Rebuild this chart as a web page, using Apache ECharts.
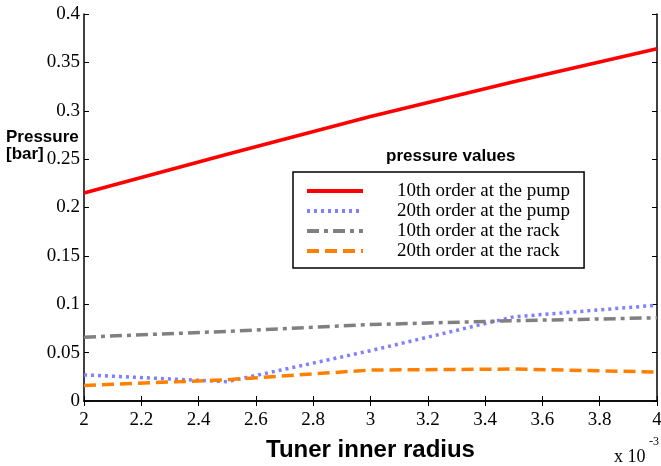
<!DOCTYPE html>
<html><head><meta charset="utf-8">
<script src="https://cdn.jsdelivr.net/npm/echarts@6/dist/echarts.min.js"></script>
<style>html,body{margin:0;padding:0;background:#fff}#c{width:661px;height:466px}</style>
</head><body><div id="c"></div>
<script>
const radius = [2, 2.5, 3, 3.5, 4];
const pump10 = [0.215, 0.255, 0.294, 0.330, 0.364];
const pump20 = [0.027, 0.020, 0.052, 0.087, 0.099];
const rack10 = [0.066, 0.072, 0.079, 0.083, 0.086];
const rack20 = [0.016, 0.022, 0.032, 0.033, 0.030];
const names = ['10th order at the pump', '20th order at the pump', '10th order at the rack', '20th order at the rack'];

const pair = (ys) => radius.map((x, i) => [x, ys[i]]);
const serif = 'Liberation Serif';
const sans = 'Liberation Sans';

const chart = echarts.init(document.getElementById('c'), null, {renderer: 'canvas'});
const axisCommon = {
  axisLine: {show: true, lineStyle: {color: '#000', width: 1.5}},
  axisTick: {show: true, inside: true, length: 5, lineStyle: {color: '#000', width: 1}},
  splitLine: {show: false}
};
chart.setOption({
  animation: false,
  backgroundColor: '#fff',
  grid: {left: 84, right: 4, top: 14, bottom: 65, outerBoundsMode: 'none', containLabel: false},
  xAxis: [
    Object.assign({type: 'value', min: 2, max: 4, interval: 0.2, position: 'bottom',
      axisLabel: {color: '#000', fontFamily: serif, fontSize: 19, margin: 10},
      name: 'Tuner inner radius', nameLocation: 'middle', nameGap: 37,
      nameTextStyle: {color: '#000', fontFamily: sans, fontWeight: 'bold', fontSize: 24}}, axisCommon),
    Object.assign({type: 'value', min: 2, max: 4, interval: 0.2, position: 'top',
      axisLabel: {show: false}}, axisCommon)
  ],
  yAxis: [
    Object.assign({type: 'value', min: 0, max: 0.4, interval: 0.05, position: 'left',
      axisLabel: {color: '#000', fontFamily: serif, fontSize: 19, margin: 4, padding: [8, 0, 0, 0]}}, axisCommon),
    Object.assign({type: 'value', min: 0, max: 0.4, interval: 0.05, position: 'right',
      axisLabel: {show: false}}, axisCommon)
  ],
  legend: {
    orient: 'vertical', left: 293, top: 172,
    data: names,
    borderColor: '#000', borderWidth: 1.5,
    padding: [9, 14, 7, 12],
    itemWidth: 56, itemHeight: 12, itemGap: 0,
    itemStyle: {opacity: 0},
    lineStyle: {width: 4},
    textStyle: {color: '#000', fontFamily: serif, fontSize: 19, lineHeight: 20, padding: [0, 0, 0, 29]}
  },
  graphic: [
    {type: 'text', left: 386, top: 148, style: {text: 'pressure values', font: 'bold 17px "Liberation Sans"', fill: '#000'}},
    {type: 'text', left: 6, top: 129, style: {text: 'Pressure', font: 'bold 17px "Liberation Sans"', fill: '#000'}},
    {type: 'text', left: 6, top: 146, style: {text: '[bar]', font: 'bold 17px "Liberation Sans"', fill: '#000'}},
    {type: 'text', left: 614, top: 448, style: {text: 'x 10', font: '18px "Liberation Serif"', fill: '#000'}},
    {type: 'text', left: 649, top: 436, style: {text: '-3', font: '12px "Liberation Serif"', fill: '#000'}}
  ],
  series: [
    {name: names[0], type: 'line', data: pair(pump10), symbol: 'none', color: '#ff0000',
      lineStyle: {color: '#ff0000', width: 3.5, type: 'solid'}},
    {name: names[1], type: 'line', data: pair(pump20), symbol: 'none', color: '#7f7fff',
      lineStyle: {color: '#7f7fff', width: 3.5, type: [3, 4]}},
    {name: names[2], type: 'line', data: pair(rack10), symbol: 'none', color: '#808080',
      lineStyle: {color: '#808080', width: 3.5, type: [12, 5, 4, 5]}},
    {name: names[3], type: 'line', data: pair(rack20), symbol: 'none', color: '#ff8000',
      lineStyle: {color: '#ff8000', width: 3.5, type: [12, 6]}}
  ]
});
</script></body></html>
